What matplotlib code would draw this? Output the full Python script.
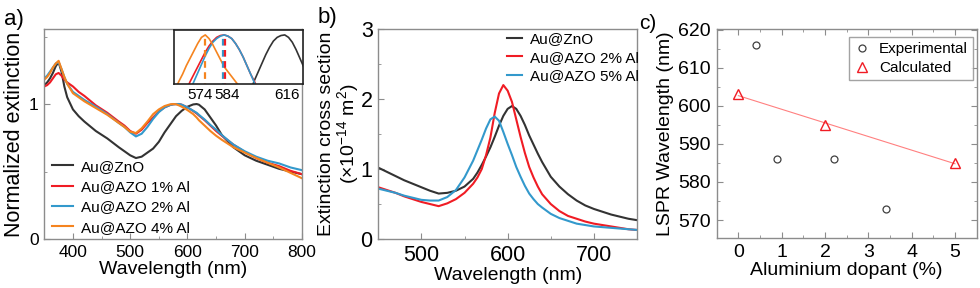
import numpy as np
import matplotlib
matplotlib.use('Agg')
import matplotlib.pyplot as plt
from matplotlib.ticker import MultipleLocator
from matplotlib.transforms import ScaledTranslation

plt.rcParams['font.family'] = ['Liberation Sans', 'DejaVu Sans']
plt.rcParams['mathtext.default'] = 'regular'

# ---- panel a: normalized extinction spectra ----
wl_a = [350, 355, 360, 365, 370, 375, 380, 385, 390, 400, 410, 420, 440, 460, 480,
        490, 500, 510, 520, 530, 540, 550, 560, 570, 575, 580, 585, 590, 600, 610,
        616, 620, 630, 640, 650, 660, 680, 700, 720, 740, 760, 780, 800]
znO_a = [1.14, 1.16, 1.19, 1.23, 1.28, 1.31, 1.24, 1.13, 1.05, 0.96, 0.91, 0.87, 0.80, 0.745, 0.68,
         0.65, 0.62, 0.60, 0.61, 0.64, 0.67, 0.72, 0.79, 0.85, 0.88, 0.91, 0.93, 0.95, 0.98, 0.997,
         1.0, 0.995, 0.96, 0.90, 0.84, 0.77, 0.68, 0.62, 0.58, 0.55, 0.52, 0.50, 0.48]
azo1_a = [1.13, 1.14, 1.16, 1.19, 1.22, 1.23, 1.21, 1.18, 1.16, 1.13, 1.09, 1.06, 0.99, 0.935, 0.87,
          0.84, 0.80, 0.78, 0.81, 0.86, 0.90, 0.945, 0.975, 0.993, 0.998, 1.0, 1.0, 0.995, 0.975, 0.948,
          0.93, 0.915, 0.88, 0.84, 0.80, 0.765, 0.70, 0.645, 0.60, 0.565, 0.54, 0.505, 0.48]
azo2_a = [1.19, 1.21, 1.24, 1.27, 1.30, 1.31, 1.26, 1.20, 1.15, 1.09, 1.06, 1.03, 0.98, 0.925, 0.86,
          0.83, 0.79, 0.76, 0.78, 0.83, 0.89, 0.94, 0.975, 0.993, 0.997, 0.999, 1.0, 0.995, 0.975, 0.95,
          0.935, 0.92, 0.885, 0.845, 0.81, 0.77, 0.70, 0.65, 0.61, 0.58, 0.56, 0.53, 0.51]
azo4_a = [1.18, 1.20, 1.23, 1.27, 1.30, 1.32, 1.26, 1.20, 1.15, 1.08, 1.05, 1.02, 0.97, 0.92, 0.86,
          0.83, 0.795, 0.785, 0.82, 0.87, 0.925, 0.96, 0.985, 0.998, 1.0, 0.998, 0.99, 0.98, 0.955, 0.925,
          0.90, 0.88, 0.84, 0.80, 0.765, 0.735, 0.68, 0.64, 0.60, 0.565, 0.53, 0.49, 0.45]

# inset (zoom on the LSPR peaks)
ins_wl_znO = [598, 600, 602, 604, 606, 608, 610, 612, 614, 616, 618, 620, 622, 624, 626, 628]
ins_znO = [0.955, 0.963, 0.970, 0.977, 0.984, 0.990, 0.995, 0.998, 0.9995, 1.0, 0.998, 0.994,
           0.988, 0.981, 0.974, 0.966]
ins_wl_azo1 = [564, 566, 568, 570, 572, 574, 576, 578, 580, 582, 584, 586, 588, 590, 592, 594, 596, 598, 600, 602]
ins_azo1 = [0.955, 0.962, 0.968, 0.974, 0.980, 0.986, 0.991, 0.995, 0.998, 0.9995, 1.0, 0.999,
            0.997, 0.993, 0.988, 0.982, 0.975, 0.968, 0.962, 0.955]
ins_wl_azo2 = [566, 568, 570, 572, 574, 576, 578, 580, 582, 584, 586, 588, 590, 592, 594, 596, 598, 600, 602]
ins_azo2 = [0.955, 0.962, 0.969, 0.976, 0.983, 0.989, 0.994, 0.997, 0.999, 1.0, 0.999,
            0.997, 0.993, 0.988, 0.982, 0.975, 0.968, 0.961, 0.954]
ins_wl_azo4 = [558, 560, 562, 564, 566, 568, 570, 572, 574, 576, 578, 580, 582, 584, 586, 588, 590, 592]
ins_azo4 = [0.955, 0.962, 0.968, 0.975, 0.981, 0.987, 0.993, 0.998, 1.0, 0.997, 0.992, 0.986,
            0.980, 0.974, 0.970, 0.966, 0.962, 0.958]
peak_ticks = [574, 584, 616]

# ---- panel b: calculated extinction cross section ----
wl_b = [450, 460, 470, 480, 490, 500, 510, 520, 530, 540, 550, 560, 565, 570, 575, 580,
        585, 590, 595, 600, 605, 610, 615, 620, 625, 630, 635, 640, 650, 660, 670, 680,
        690, 700, 710, 720, 730, 740, 750]
znO_b = [1.02, 0.96, 0.90, 0.84, 0.79, 0.74, 0.69, 0.65, 0.66, 0.69, 0.75, 0.86, 0.95, 1.06, 1.18, 1.31,
         1.46, 1.62, 1.76, 1.86, 1.90, 1.86, 1.76, 1.63, 1.48, 1.35, 1.22, 1.10, 0.89, 0.75, 0.64, 0.55,
         0.48, 0.43, 0.39, 0.35, 0.32, 0.29, 0.27]
azo2_b = [0.74, 0.70, 0.66, 0.61, 0.57, 0.53, 0.50, 0.47, 0.51, 0.57, 0.66, 0.79, 0.88, 1.00, 1.20, 1.45,
          1.80, 2.08, 2.20, 2.12, 1.96, 1.71, 1.46, 1.23, 1.03, 0.88, 0.75, 0.64, 0.50, 0.40, 0.33, 0.29,
          0.25, 0.22, 0.20, 0.18, 0.16, 0.14, 0.13]
azo5_b = [0.72, 0.69, 0.66, 0.62, 0.59, 0.56, 0.55, 0.55, 0.60, 0.70, 0.88, 1.12, 1.27, 1.42, 1.58, 1.71,
          1.75, 1.69, 1.53, 1.36, 1.20, 1.03, 0.89, 0.76, 0.65, 0.57, 0.50, 0.45, 0.36, 0.30, 0.26, 0.22,
          0.20, 0.18, 0.17, 0.16, 0.15, 0.14, 0.13]

# ---- panel c: LSPR position vs Al doping ----
exp_x = [0.4, 0.9, 2.2, 3.4]
exp_y = [616, 586, 586, 573]
calc_x = [0, 2, 5]
calc_y = [603, 595, 585]

c_black = '#333333'
c_red = '#f01c24'
c_blue = '#3399cc'
c_orange = '#f5841f'
spine_gray = '#8c8c8c'


def style_axes(ax, labelsize, mirror=False):
    for s in ax.spines.values():
        s.set_color(spine_gray)
        s.set_linewidth(1.0)
    ax.tick_params(which='both', direction='in', color=spine_gray, labelsize=labelsize,
                   top=mirror, right=mirror, pad=4)
    ax.tick_params(which='major', length=4)
    ax.tick_params(which='minor', length=2.5)


fig = plt.figure(figsize=(9.8, 2.88), dpi=100)

# panel a
ax1 = fig.add_axes([0.0452, 0.170, 0.263, 0.729])
ax1.plot(wl_a, znO_a, color=c_black, lw=1.5, label='Au@ZnO')
ax1.plot(wl_a, azo1_a, color=c_red, lw=1.5, label='Au@AZO 1% Al')
ax1.plot(wl_a, azo2_a, color=c_blue, lw=1.5, label='Au@AZO 2% Al')
ax1.plot(wl_a, azo4_a, color=c_orange, lw=1.5, label='Au@AZO 4% Al')
ax1.set_xlim(350, 800)
ax1.set_ylim(0, 1.555)
ax1.xaxis.set_major_locator(MultipleLocator(100))
ax1.xaxis.set_minor_locator(MultipleLocator(50))
ax1.yaxis.set_major_locator(MultipleLocator(1))
ax1.yaxis.set_minor_locator(MultipleLocator(0.5))
style_axes(ax1, 12.5)
ax1.set_xlabel('Wavelength (nm)', fontsize=14, labelpad=1)
ax1.set_ylabel('Normalized extinction', fontsize=15.5)
ax1.yaxis.set_label_coords(-0.073, 0.5)
ax1.legend(loc='lower left', bbox_to_anchor=(0.03, 0.02), frameon=False, fontsize=11,
           handlelength=1.35, handletextpad=0.55, labelspacing=0.42, borderpad=0, borderaxespad=0)

axi = fig.add_axes([0.1776, 0.7083, 0.1313, 0.1875])
axi.plot(ins_wl_znO, ins_znO, color=c_black, lw=1.2)
axi.plot(ins_wl_azo1, ins_azo1, color=c_red, lw=1.2)
axi.plot(ins_wl_azo2, ins_azo2, color=c_blue, lw=1.2)
axi.plot(ins_wl_azo4, ins_azo4, color=c_orange, lw=1.2)
axi.plot([574, 574], [0.955, 1.0], color=c_orange, lw=1.6, ls=(0, (3, 2)))
axi.plot([583.6, 583.6], [0.955, 1.0], color=c_blue, lw=1.6, ls=(0, (3, 2)))
axi.plot([584.4, 584.4], [0.955, 1.0], color=c_red, lw=1.6, ls=(0, (3, 2)))
axi.set_xlim(557.5, 625.5)
axi.set_ylim(0.96, 1.004)
axi.set_xticks(peak_ticks)
axi.set_yticks([])
axi.tick_params(axis='x', length=0, labelsize=11, pad=3)
# nudge the two close peak labels apart so they do not collide
for lab, dx in zip(axi.get_xticklabels(), [-5, 3, 2]):
    lab.set_transform(lab.get_transform() + ScaledTranslation(dx / 100, 0, fig.dpi_scale_trans))
for s in axi.spines.values():
    s.set_color('#222222')
    s.set_linewidth(1.2)

# panel b
ax2 = fig.add_axes([0.386, 0.170, 0.264, 0.729])
ax2.plot(wl_b, znO_b, color=c_black, lw=1.5, label='Au@ZnO')
ax2.plot(wl_b, azo2_b, color=c_red, lw=1.5, label='Au@AZO 2% Al')
ax2.plot(wl_b, azo5_b, color=c_blue, lw=1.5, label='Au@AZO 5% Al')
ax2.set_xlim(450, 750)
ax2.set_ylim(0, 3)
ax2.xaxis.set_major_locator(MultipleLocator(100))
ax2.xaxis.set_minor_locator(MultipleLocator(50))
ax2.yaxis.set_major_locator(MultipleLocator(1))
ax2.yaxis.set_minor_locator(MultipleLocator(0.5))
style_axes(ax2, 15.5)
ax2.set_xlabel('Wavelength (nm)', fontsize=14, labelpad=1)
ax2.set_ylabel('Extinction cross section\n(×10$^{-14}$ m$^2$)', fontsize=14, linespacing=1.0)
ax2.yaxis.set_label_coords(-0.066, 0.5)
ax2.legend(loc='upper left', bbox_to_anchor=(0.496, 0.985), frameon=False, fontsize=11,
           handlelength=1.0, handletextpad=0.5, labelspacing=0.3, borderpad=0, borderaxespad=0)

# panel c
ax3 = fig.add_axes([0.7313, 0.1726, 0.2653, 0.7267])
coef = np.polyfit(calc_x, calc_y, 1)
fit_x = [min(calc_x), max(calc_x)]
ax3.plot(fit_x, np.polyval(coef, fit_x), color='#ff8080', lw=0.8)
ax3.plot(exp_x, exp_y, ls='none', marker='o', ms=5, mfc='none', mec='#404040', mew=0.9,
         label='Experimental')
ax3.plot(calc_x, calc_y, ls='none', marker='^', ms=6.5, mfc='none', mec=c_red, mew=1.0,
         label='Calculated')
ax3.set_xlim(-0.5, 5.5)
ax3.set_ylim(565.2, 620.2)
ax3.xaxis.set_major_locator(MultipleLocator(1))
ax3.xaxis.set_minor_locator(MultipleLocator(0.5))
ax3.yaxis.set_major_locator(MultipleLocator(10))
ax3.yaxis.set_minor_locator(MultipleLocator(5))
style_axes(ax3, 14, mirror=True)
ax3.set_xlabel('Aluminium dopant (%)', fontsize=14, labelpad=1)
ax3.set_ylabel('LSPR Wavelength (nm)', fontsize=14)
ax3.yaxis.set_label_coords(-0.165, 0.5)
leg = ax3.legend(loc='upper right', bbox_to_anchor=(0.986, 0.962), fontsize=11, fancybox=False,
                 handlelength=1.0, handletextpad=0.6, labelspacing=0.3, borderaxespad=0,
                 borderpad=0.35)
leg.get_frame().set_edgecolor(spine_gray)
leg.get_frame().set_linewidth(1.0)

fig.text(0.004, 0.97, 'a)', fontsize=16, va='top')
fig.text(0.324, 0.975, 'b)', fontsize=16, va='top')
fig.text(0.652, 0.95, 'c)', fontsize=15, va='top')

fig.savefig('out.png', dpi=100)
